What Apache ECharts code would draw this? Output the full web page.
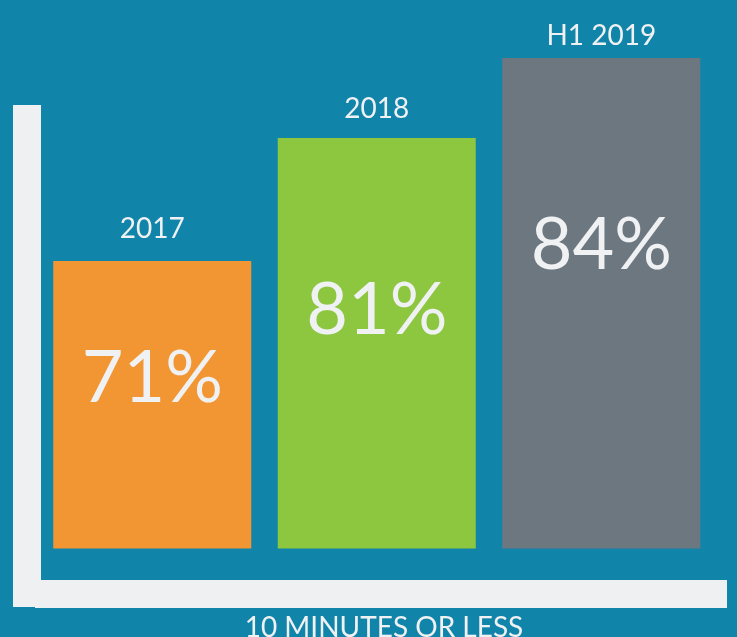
<!DOCTYPE html>
<html>
<head>
<meta charset="utf-8">
<style>
  html, body { margin: 0; padding: 0; background: #1184aa; }
  #chart { width: 737px; height: 637px; }
</style>
<script src="https://cdn.jsdelivr.net/npm/echarts@6/dist/echarts.min.js"></script>
</head>
<body>
<div id="chart"></div>
<script>
var categories = ['2017', '2018', 'H1 2019'];
var percents = [71, 81, 84];
// drawn bar heights, relative to the tallest bar (infographic, not to scale)
var barHeights = [58.6, 83.7, 100];
var barColors = ['#f29633', '#8dc63f', '#6d7780'];
var axisTitle = '10 MINUTES OR LESS';

var textColor = '#eff1f3';
var fontFamily = 'Lato, "Open Sans", sans-serif';

// label offsets measured from bar top
var valueOffsets = [118, 173, 188];
var nameOffsets = [-32, -29, -22];

var chart = echarts.init(document.getElementById('chart'));

chart.setOption({
    backgroundColor: '#1184aa',
    animation: false,
    grid: { left: 40, right: 23.5, top: 58, bottom: 88.5 },
    xAxis: {
        type: 'category',
        data: categories,
        show: false
    },
    yAxis: {
        type: 'value',
        min: 0,
        max: 100,
        show: false
    },
    graphic: [
        { type: 'rect', shape: { x: 13, y: 105, width: 28, height: 502 }, style: { fill: '#eff0f2' } },
        { type: 'rect', shape: { x: 35, y: 580, width: 692, height: 28 }, style: { fill: '#eff0f2' } },
        {
            type: 'text', x: 384, y: 628,
            style: {
                text: axisTitle, fill: textColor, font: '28px ' + fontFamily,
                align: 'center', verticalAlign: 'middle'
            }
        }
    ],
    series: [
        {
            type: 'bar',
            barWidth: 198,
            barGap: '-100%',
            data: barHeights.map(function (h, i) {
                return {
                    value: h,
                    itemStyle: { color: barColors[i] },
                    label: { position: [99, valueOffsets[i]] }
                };
            }),
            label: {
                show: true,
                align: 'center',
                verticalAlign: 'middle',
                color: textColor,
                fontFamily: fontFamily,
                fontSize: 72,
                formatter: function (p) { return percents[p.dataIndex] + '%'; }
            }
        },
        {
            type: 'bar',
            barWidth: 198,
            silent: true,
            itemStyle: { color: 'transparent' },
            data: barHeights.map(function (h, i) {
                return { value: h, label: { position: [99, nameOffsets[i]] } };
            }),
            label: {
                show: true,
                align: 'center',
                verticalAlign: 'middle',
                color: textColor,
                fontFamily: fontFamily,
                fontSize: 28,
                formatter: function (p) { return categories[p.dataIndex]; }
            }
        }
    ]
});
</script>
</body>
</html>
